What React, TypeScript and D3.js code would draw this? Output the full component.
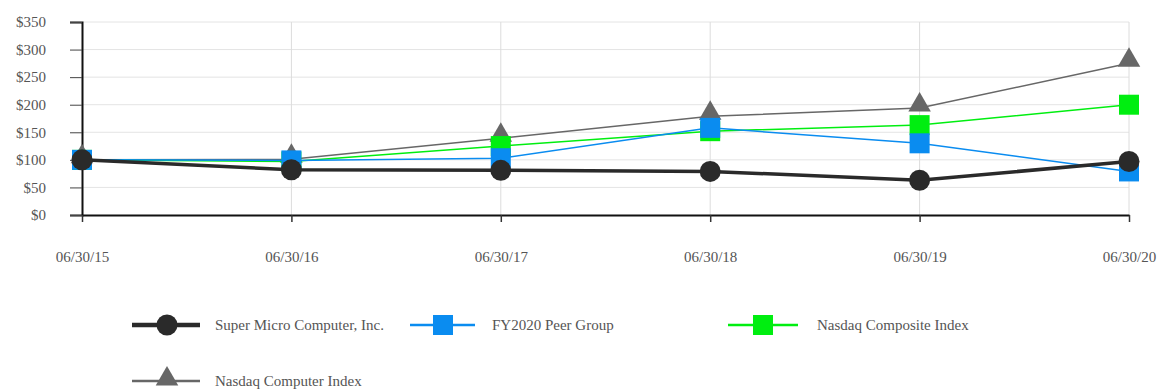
import React, { useEffect, useRef } from 'react'
import * as d3 from 'd3'

// dates on the x axis
const dates = ['06/30/15', '06/30/16', '06/30/17', '06/30/18', '06/30/19', '06/30/20']
const yTicks = [0, 50, 100, 150, 200, 250, 300, 350]

// cumulative return of $100
const superMicro = [100, 82, 81, 79, 63, 97]
const peerGroup = [100, 99, 103, 158, 130, 79]
const nasdaqComposite = [100, 97, 125, 152, 163, 200]
const nasdaqComputer = [100, 101, 139, 179, 194, 275]

const seriesNames = ['Super Micro Computer, Inc.', 'FY2020 Peer Group', 'Nasdaq Composite Index', 'Nasdaq Computer Index']

export default function App() {
  const ref = useRef<SVGSVGElement>(null)

  useEffect(() => {
    const svg = d3.select(ref.current)
    svg.selectAll('*').remove()

    const margin = { left: 82, right: 33, top: 22, bottom: 176 }
    const width = 1162, height = 391

    const x = d3.scalePoint<string>().domain(dates).range([margin.left, width - margin.right])
    const y = d3.scaleLinear().domain([0, 350]).range([height - margin.bottom, margin.top])

    const font = '"Liberation Serif", "Times New Roman", serif'

    // grid
    svg.append('g').selectAll('line').data(yTicks.slice(1)).enter().append('line')
      .attr('x1', margin.left).attr('x2', width - margin.right)
      .attr('y1', d => y(d)).attr('y2', d => y(d))
      .attr('stroke', '#e4e4e4').attr('stroke-width', 1)
    svg.append('g').selectAll('line').data(dates.slice(1)).enter().append('line')
      .attr('x1', d => x(d)!).attr('x2', d => x(d)!)
      .attr('y1', y(350)).attr('y2', y(0))
      .attr('stroke', '#dcdcdc').attr('stroke-width', 1)

    // y axis
    const yAxis = svg.append('g').attr('transform', `translate(${margin.left},0)`)
      .call(d3.axisLeft(y).tickValues(yTicks).tickSize(12).tickPadding(24).tickFormat(d => '$' + d))
    yAxis.attr('font-family', font).attr('font-size', 15)
    yAxis.select('.domain').attr('stroke', '#111').attr('stroke-width', 2)
    yAxis.selectAll('.tick line').attr('stroke', '#444')
    yAxis.selectAll('text').attr('fill', '#555')

    // x axis
    const xAxis = svg.append('g').attr('transform', `translate(0,${y(0)})`)
      .call(d3.axisBottom(x).tickSize(7).tickPadding(29).tickSizeOuter(0))
    xAxis.attr('font-family', font).attr('font-size', 15)
    xAxis.select('.domain').attr('stroke', '#111').attr('stroke-width', 2)
    xAxis.selectAll('.tick line').attr('stroke', '#333').attr('stroke-width', 1.5)
    xAxis.selectAll('text').attr('fill', '#555')

    const series = [
      { name: seriesNames[3], values: nasdaqComputer, color: '#676767', width: 1.5, shape: 'triangle' },
      { name: seriesNames[2], values: nasdaqComposite, color: '#00ee10', width: 1.5, shape: 'square' },
      { name: seriesNames[1], values: peerGroup, color: '#0a8cf0', width: 1.5, shape: 'square' },
      { name: seriesNames[0], values: superMicro, color: '#2a2a2a', width: 3.5, shape: 'circle' },
    ]

    const symbolFor = (shape: string) => {
      if (shape === 'circle') return d3.symbol().type(d3.symbolCircle).size(Math.PI * 10.5 * 10.5)
      if (shape === 'square') return d3.symbol().type(d3.symbolSquare).size(20 * 20)
      return d3.symbol().type(d3.symbolTriangle).size(220)
    }

    const line = d3.line<number>().x((d, i) => x(dates[i])!).y(d => y(d))

    series.forEach(s => {
      svg.append('path').datum(s.values).attr('d', line)
        .attr('fill', 'none').attr('stroke', s.color).attr('stroke-width', s.width)
      svg.append('g').selectAll('path').data(s.values).enter().append('path')
        .attr('d', symbolFor(s.shape)())
        .attr('transform', (d, i) => `translate(${x(dates[i])},${y(d) + (s.shape === 'triangle' ? -3 : 0)})`)
        .attr('fill', s.color)
    })

    // legend
    const legend = [
      { s: series[3], x1: 132, x2: 200, mx: 167, ly: 325, tx: 215 },
      { s: series[2], x1: 410, x2: 475, mx: 443, ly: 325, tx: 492 },
      { s: series[1], x1: 728, x2: 798, mx: 763, ly: 325, tx: 817 },
      { s: series[0], x1: 132, x2: 200, mx: 167, ly: 381, tx: 215 },
    ]
    legend.forEach(l => {
      const g = svg.append('g')
      g.append('line').attr('x1', l.x1).attr('x2', l.x2).attr('y1', l.ly).attr('y2', l.ly)
        .attr('stroke', l.s.color).attr('stroke-width', l.s.width + 1)
      g.append('path').attr('d', symbolFor(l.s.shape)())
        .attr('transform', `translate(${l.mx},${l.ly + (l.s.shape === 'triangle' ? -2 : 0)})`)
        .attr('fill', l.s.color)
      g.append('text').attr('x', l.tx).attr('y', l.ly + 5).text(l.s.name)
        .attr('font-family', font).attr('font-size', 15).attr('fill', '#555')
    })
  }, [])

  return (
    <svg ref={ref} width={1162} height={391}
      style={{ position: 'absolute', left: 0, top: 0, background: '#fff' }} />
  )
}
